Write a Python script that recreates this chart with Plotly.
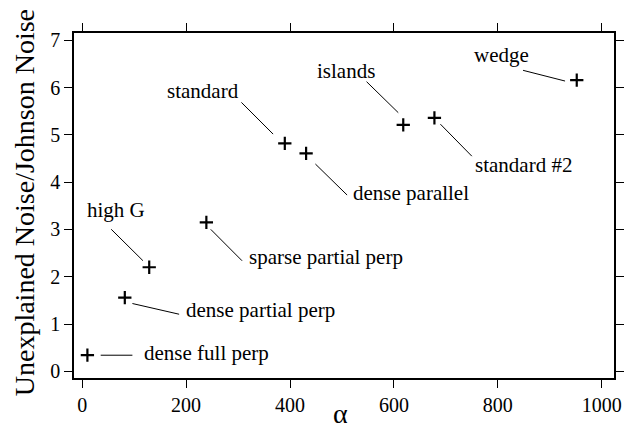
import plotly.graph_objects as go

# Measurements: alpha vs. unexplained noise relative to Johnson noise
labels = ["dense full perp", "dense partial perp", "high G", "sparse partial perp",
          "standard", "dense parallel", "islands", "standard #2", "wedge"]
alpha = [10, 82, 129, 239, 390, 431, 618, 678, 952]
noise_ratio = [0.34, 1.56, 2.20, 3.15, 4.82, 4.61, 5.21, 5.36, 6.16]

x_ticks = [0, 200, 400, 600, 800, 1000]
y_ticks = [0, 1, 2, 3, 4, 5, 6, 7]

FONT = "Liberation Serif, 'Times New Roman', Times, serif"

# Label placement in pixels relative to each point:
# (xanchor, text dx, text dy, leader start (dx, dy), leader end (dx, dy)), dy positive = up
placement = {
    "dense full perp":     ("left",   55.0,   1.8, (13.3, 0.0), (45.0, 0.0)),
    "dense partial perp":  ("left",   59.3, -12.4, (7.6, -6.0), (54.3, -16.7)),
    "high G":              ("center", -33.6, 57.6, (-38.0, 38.0), (-6.3, 6.6)),
    "sparse partial perp": ("left",   40.7, -34.8, (4.4, -7.0), (35.7, -38.4)),
    "standard":            ("center", -82.0, 52.1, (-43.4, 41.0), (-11.7, 9.3)),
    "dense parallel":      ("left",   45.0, -39.3, (9.3, -10.7), (41.0, -41.7)),
    "islands":             ("center", -57.2, 53.8, (-36.7, 43.3), (-5.0, 12.3)),
    "standard #2":         ("left",   38.4, -46.9, (6.0, -6.3), (37.4, -38.3)),
    "wedge":               ("center", -74.9, 25.5, (-53.7, 9.7), (-11.7, -1.0)),
}

fig = go.Figure()
fig.add_trace(go.Scatter(
    x=alpha, y=noise_ratio, mode="markers",
    marker=dict(symbol="cross-thin", size=9.5, color="black",
                line=dict(color="black", width=2.2)),
    showlegend=False, hoverinfo="skip",
))

annotations = []
shapes = []
for name, xv, yv in zip(labels, alpha, noise_ratio):
    anchor, tdx, tdy, (sx, sy), (ex, ey) = placement[name]
    annotations.append(dict(
        x=xv, y=yv, xref="x", yref="y", text=name, showarrow=False,
        xanchor=anchor, yanchor="middle", xshift=tdx, yshift=tdy,
        font=dict(family=FONT, size=21, color="black"),
    ))
    shapes.append(dict(
        type="line", xref="x", yref="y",
        xsizemode="pixel", ysizemode="pixel", xanchor=xv, yanchor=yv,
        x0=sx, y0=sy, x1=ex, y1=ey,
        line=dict(color="black", width=1),
    ))

# axis titles
annotations.append(dict(
    text="α", xref="paper", yref="paper", x=0.494, y=0,
    xanchor="center", yanchor="top", yshift=-17.5, showarrow=False,
    font=dict(family=FONT, size=28, color="black"),
))
annotations.append(dict(
    text="Unexplained Noise/Johnson Noise", xref="paper", yref="paper",
    x=-0.0923, y=0.507, xanchor="center", yanchor="middle", textangle=-90,
    showarrow=False, font=dict(family=FONT, size=28, color="black"),
))

axis_common = dict(
    showline=True, linecolor="black", linewidth=1.5, mirror="ticks",
    ticks="outside", ticklen=8, tickwidth=1, tickcolor="black",
    showgrid=False, zeroline=False,
    tickfont=dict(family=FONT, size=20, color="black"),
)

fig.update_layout(
    width=636, height=428,
    margin=dict(l=74, r=15, t=33, b=50),
    paper_bgcolor="white", plot_bgcolor="white",
    font=dict(family=FONT, color="black"),
    xaxis=dict(range=[-15.8, 1023.7], tickvals=x_ticks, **axis_common),
    yaxis=dict(range=[-0.142, 7.155], tickvals=y_ticks, **axis_common),
    annotations=annotations, shapes=shapes,
)

fig.write_html("out.html")
